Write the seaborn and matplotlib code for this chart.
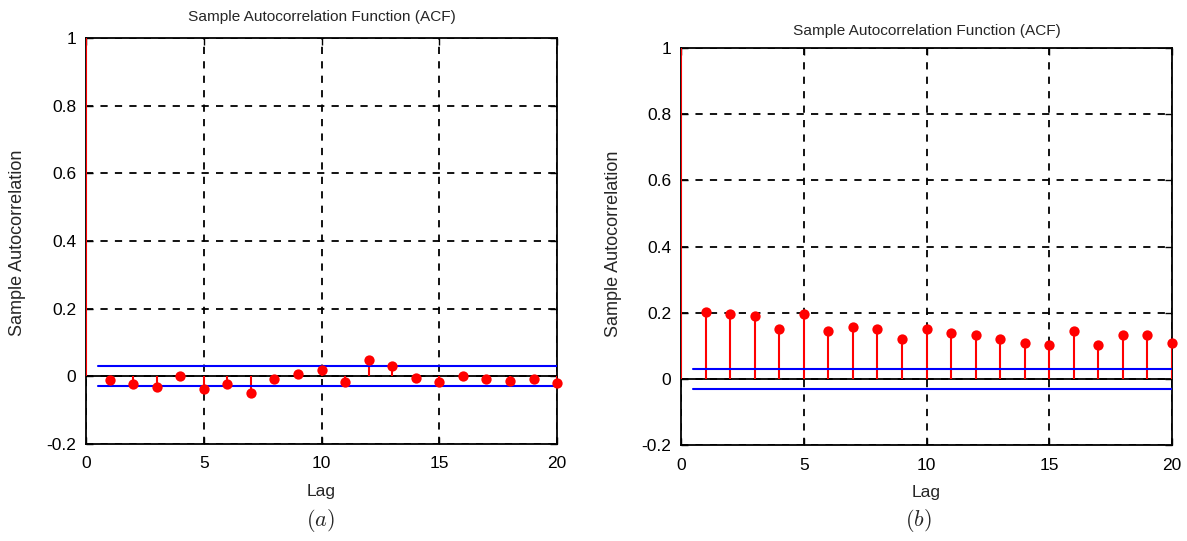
import numpy as np
import pandas as pd
import matplotlib
matplotlib.use("Agg")
import matplotlib.pyplot as plt
import seaborn as sns

lags = list(range(1, 21))
acf_a = [-0.012, -0.023, -0.031, 0.001, -0.038, -0.024, -0.049, -0.007, 0.007, 0.018,
         -0.018, 0.047, 0.031, -0.006, -0.018, 0.001, -0.007, -0.013, -0.007, -0.020]
acf_b = [0.202, 0.195, 0.189, 0.151, 0.195, 0.144, 0.157, 0.151, 0.119, 0.151,
         0.139, 0.133, 0.119, 0.107, 0.101, 0.144, 0.101, 0.133, 0.133, 0.107]
bound_a = 0.03
bound_b = 0.031
xticks = [0, 5, 10, 15, 20]
yticks = [-0.2, 0, 0.2, 0.4, 0.6, 0.8, 1]
ytick_labels = ["-0.2", "0", "0.2", "0.4", "0.6", "0.8", "1"]
title = "Sample Autocorrelation Function (ACF)"
xlabel = "Lag"
ylabel = "Sample Autocorrelation"
captions = ["$(a)$", "$(b)$"]

sns.set_style("white")
plt.rcParams["font.family"] = ["Liberation Sans", "DejaVu Sans"]
plt.rcParams["mathtext.fontset"] = "cm"

fig = plt.figure(figsize=(11.87, 5.41), dpi=100)
positions = [[0.0725, 0.1793, 0.3968, 0.7505], [0.5737, 0.1774, 0.4137, 0.7339]]
ylabel_x = [26 / 1187, 622 / 1187]
ylabel_y = [243 / 541, 244 / 541]
caption_x = [320 / 1187, 918 / 1187]
title_pad = [12, 9]

for i, (pos, vals, bnd, cap) in enumerate(zip(positions, [acf_a, acf_b], [bound_a, bound_b], captions)):
    ax = fig.add_axes(pos)
    df = pd.DataFrame({"Lag": lags, "ACF": vals})
    ax.set_xticks(xticks)
    ax.set_xticklabels([str(t) for t in xticks])
    ax.set_yticks(yticks)
    ax.set_yticklabels(ytick_labels)
    ax.grid(True, color="black", linestyle=(0, (4, 4)), linewidth=1.3)
    ax.set_axisbelow(True)
    ax.axhline(0, color="black", linewidth=1.3, zorder=2)
    ax.vlines([0] + lags, 0, [1] + vals, color="red", linewidth=1.5, zorder=3)
    bdf = pd.DataFrame({"x": [0.5, 20, 0.5, 20], "y": [bnd, bnd, -bnd, -bnd],
                        "g": ["u", "u", "l", "l"]})
    for g, sub in bdf.groupby("g"):
        sns.lineplot(data=sub, x="x", y="y", ax=ax, color="blue", linewidth=1.5, zorder=4)
    sns.scatterplot(data=df, x="Lag", y="ACF", ax=ax, color="red", s=55,
                    edgecolor="red", linewidth=0, zorder=5, clip_on=False)
    ax.set_xlim(0, 20)
    ax.set_ylim(-0.2, 1)
    for sp in ax.spines.values():
        sp.set_visible(True)
        sp.set_color("black")
        sp.set_linewidth(1.3)
    ax.tick_params(direction="in", length=5, width=1, colors="black",
                   labelsize=12.5, top=True, right=True, bottom=True, left=True)
    ax.tick_params(axis="x", pad=9)
    ax.tick_params(axis="y", pad=7)
    ax.set_title(title, fontsize=11.1, pad=title_pad[i])
    ax.set_xlabel(xlabel, fontsize=12.5, labelpad=9)
    ax.set_ylabel(ylabel, fontsize=13)
    ax.yaxis.set_label_coords(ylabel_x[i], 1 - ylabel_y[i], transform=fig.transFigure)
    fig.text(caption_x[i], 1 - 521 / 541, cap, ha="center", va="center", fontsize=16)

fig.savefig("out.png", dpi=100)
